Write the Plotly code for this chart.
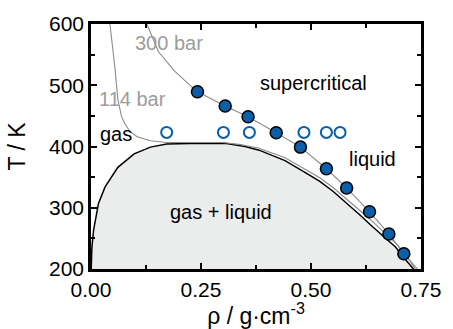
import plotly.graph_objects as go

# Liquid-vapour coexistence curve (vapour branch, then liquid branch)
coex_rho = [0.0005, 0.002, 0.006, 0.017, 0.032, 0.061, 0.098, 0.135, 0.172, 0.209, 0.25,
            0.308, 0.35, 0.382, 0.441, 0.49, 0.52, 0.55, 0.581, 0.61, 0.64, 0.665, 0.692, 0.715, 0.733]
coex_T = [200, 235, 264, 307, 334, 366, 388, 399, 404, 405.2, 405.5,
          405, 400, 394, 377, 356, 343, 327, 308, 289, 269, 253, 236, 215, 200]

# 114 bar isobar
iso114_rho = [0.041, 0.043, 0.054, 0.061, 0.069, 0.077, 0.088, 0.105, 0.135, 0.172, 0.20, 0.25, 0.30,
              0.34, 0.38, 0.44, 0.49, 0.52, 0.55, 0.585, 0.615, 0.645, 0.67, 0.697, 0.72, 0.737]
iso114_T = [610, 600, 531, 477, 450, 437, 425, 416, 409.5, 406.5, 406.5, 406.5, 406.5,
            403, 397.5, 382, 362, 349, 333, 312, 293, 274, 257, 239, 218, 200]

# 300 bar isobar
iso300_rho = [0.125, 0.127, 0.153, 0.19, 0.227, 0.242, 0.305, 0.357, 0.421, 0.476,
              0.535, 0.581, 0.633, 0.677, 0.711, 0.742]
iso300_T = [610, 600, 555, 523, 498.7, 489.5, 466, 448.5, 422.5, 399,
            363.7, 332.3, 293.4, 257.2, 225, 200]

# State points along the 300 bar isobar
sc_rho = [0.242, 0.305, 0.357, 0.421, 0.476, 0.535, 0.581, 0.633, 0.677, 0.711]
sc_T = [489.5, 466, 448.5, 422.5, 399, 363.7, 332.3, 293.4, 257.2, 225]

# State points at constant temperature
iso_rho = [0.172, 0.301, 0.360, 0.484, 0.535, 0.566]
iso_T = [423, 423, 423, 423, 423, 423]

x_ticks = [0.0, 0.25, 0.5, 0.75]
y_ticks = [200, 300, 400, 500, 600]

BLUE = "#0b5ea8"
GRAY = "#8a8a8a"
LABEL_GRAY = "#9c9c9c"
FONT = "Liberation Sans, Arial, sans-serif"

fig = go.Figure()

fig.add_trace(go.Scatter(x=coex_rho, y=coex_T, mode="lines", fill="tozeroy",
                         fillcolor="#ebecec", line=dict(color="black", width=1.5),
                         hoverinfo="skip"))
fig.add_trace(go.Scatter(x=iso114_rho, y=iso114_T, mode="lines",
                         line=dict(color=GRAY, width=1.1)))
fig.add_trace(go.Scatter(x=iso300_rho, y=iso300_T, mode="lines",
                         line=dict(color=GRAY, width=1.1)))
fig.add_trace(go.Scatter(x=iso_rho, y=iso_T, mode="markers",
                         marker=dict(symbol="circle-open", size=11, color=BLUE,
                                     line=dict(width=2, color=BLUE))))
fig.add_trace(go.Scatter(x=sc_rho, y=sc_T, mode="markers",
                         marker=dict(symbol="circle", size=12, color=BLUE,
                                     line=dict(width=1.5, color="black"))))

labels = [
    ("300 bar", 0.178, 569, LABEL_GRAY),
    ("114 bar", 0.095, 478, LABEL_GRAY),
    ("gas", 0.056, 421, "black"),
    ("supercritical", 0.505, 504, "black"),
    ("liquid", 0.639, 380, "black"),
    ("gas + liquid", 0.295, 293, "black"),
]
for text, x, y, c in labels:
    fig.add_annotation(x=x, y=y, text=text, showarrow=False,
                       font=dict(family=FONT, size=20, color=c))

axis_common = dict(showline=True, linecolor="black", linewidth=2.5, mirror="allticks",
                   ticks="inside", ticklen=6, tickwidth=2, tickcolor="black",
                   showgrid=False, zeroline=False,
                   tickfont=dict(family=FONT, size=21, color="black"))

fig.update_xaxes(range=[0, 0.75], tickvals=x_ticks, tickformat=".2f",
                 minor=dict(ticks="inside", ticklen=4, tickwidth=2, tickcolor="black", dtick=0.125),
                 title=dict(text="ρ / g·cm<sup>-3</sup>", standoff=0,
                            font=dict(family=FONT, size=23, color="black")),
                 **axis_common)
fig.update_yaxes(range=[200, 600], tickvals=y_ticks,
                 minor=dict(ticks="inside", ticklen=4, tickwidth=2, tickcolor="black", dtick=50),
                 title=dict(text="T / K", standoff=17,
                            font=dict(family=FONT, size=23, color="black")),
                 **axis_common)

fig.update_layout(width=453, height=329, showlegend=False,
                  margin=dict(l=91, r=23, t=22, b=60),
                  plot_bgcolor="white", paper_bgcolor="white")

fig.write_html("out.html")
